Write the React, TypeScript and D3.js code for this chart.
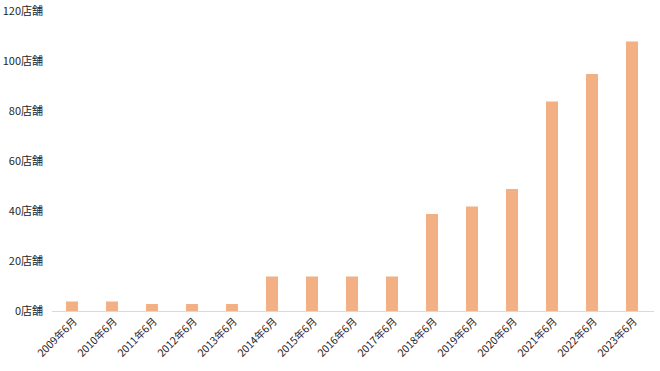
import React from "react";
import * as d3 from "d3";

const categories = ["2009年6月","2010年6月","2011年6月","2012年6月","2013年6月","2014年6月","2015年6月","2016年6月","2017年6月","2018年6月","2019年6月","2020年6月","2021年6月","2022年6月","2023年6月"];
const stores = [4,4,3,3,3,14,14,14,14,39,42,49,84,95,108];
const yTicks = [0,20,40,60,80,100,120];

const W = 660, H = 371;
const left = 52, right = 652, top = 11.5, bottom = 311.5;

export default function App() {
  const x = d3.scaleBand<string>().domain(categories).range([left, right]).paddingInner(0.7).paddingOuter(0.35);
  const y = d3.scaleLinear().domain([0, 120]).range([bottom, top]);
  const font = "'Noto Sans CJK JP', 'Noto Sans', sans-serif";
  return (
    <svg width={W} height={H} style={{ position: "absolute", left: 0, top: 0, background: "#fff" }}>
      {yTicks.map(t => (
        <text key={t} x={43} y={y(t)} dy="0.35em" textAnchor="end" fontSize={11} fontFamily={font} fill="#262626">{t}店舗</text>
      ))}
      {categories.map((c, i) => (
        <rect key={c} x={x(c)} y={y(stores[i])} width={x.bandwidth()} height={bottom - y(stores[i])} fill="#F2B084" />
      ))}
      <line x1={left} x2={right + 2} y1={bottom} y2={bottom} stroke="#D9D9D9" strokeWidth={1} />
      {categories.map(c => {
        const cx = (x(c) as number) + x.bandwidth() / 2 + 3;
        const cy = bottom + 8;
        return (
          <text key={c} transform={`translate(${cx},${cy}) rotate(-45)`} textAnchor="end" dy="0.35em" fontSize={10.5} fontFamily={font} fill="#262626">{c}</text>
        );
      })}
    </svg>
  );
}
